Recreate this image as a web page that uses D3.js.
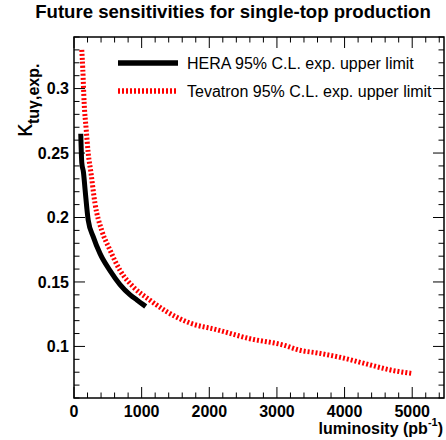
<!DOCTYPE html>
<html>
<head>
<meta charset="utf-8">
<script src="https://cdn.jsdelivr.net/npm/d3@7"></script>
<style>
  body { margin: 0; background: #fff; }
  svg { display: block; font-family: "Liberation Sans", Arial, sans-serif; }
</style>
</head>
<body>
<script>
// Data
var heraLumi  = [100, 115, 140, 165, 210, 285, 385, 530, 680, 830, 930, 1060];
var heraKappa = [0.265, 0.2425, 0.235, 0.221, 0.198, 0.185, 0.172, 0.159, 0.148, 0.140, 0.136, 0.131];

var tevLumi  = [115, 130, 150, 180, 210, 250, 310, 410, 530, 680, 880, 1120, 1370, 1720, 2110, 2600, 3100, 3340, 3590, 3980, 4380, 4680, 5000];
var tevKappa = [0.330, 0.315, 0.289, 0.2685, 0.250, 0.235, 0.211, 0.190, 0.175, 0.159, 0.146, 0.136, 0.127, 0.118, 0.113, 0.106, 0.101, 0.097, 0.095, 0.091, 0.0856, 0.0817, 0.079];

var xTicks = [0, 1000, 2000, 3000, 4000, 5000];
var yTicks = [0.1, 0.15, 0.2, 0.25, 0.3];
var legendLabels = ["HERA 95% C.L. exp. upper limit", "Tevatron 95% C.L. exp. upper limit"];

var svgWidth = 446, svgHeight = 440;
var margin = {top: 37, right: 2, bottom: 42, left: 74};

var svg = d3.select("body").append("svg")
    .attr("width", svgWidth)
    .attr("height", svgHeight);

var x = d3.scaleLinear().domain([0, 5470]).range([margin.left, svgWidth - margin.right]);
var y = d3.scaleLinear().domain([0.06, 0.34]).range([svgHeight - margin.bottom, margin.top]);

var x0 = x.range()[0], x1 = x.range()[1];
var y0 = y.range()[0], y1 = y.range()[1];

// Title
svg.append("text")
    .attr("x", 233)
    .attr("y", 18)
    .attr("text-anchor", "middle")
    .style("font-size", "18.6px")
    .style("font-weight", "bold")
    .text("Future sensitivities for single-top production");

// Frame
svg.append("rect")
    .attr("x", x0).attr("y", y1)
    .attr("width", x1 - x0).attr("height", y0 - y1)
    .attr("fill", "none").attr("stroke", "#000").attr("stroke-width", 1.5);

// Ticks (drawn inward, on all four sides)
var major = 11, minor = 5.5;
var ticks = svg.append("g").attr("stroke", "#000").attr("stroke-width", 1);

d3.range(0, 5470, 200).forEach(function(v) {
    var len = (v % 1000 === 0) ? major : minor;
    ticks.append("line").attr("x1", x(v)).attr("x2", x(v)).attr("y1", y0).attr("y2", y0 - len);
    ticks.append("line").attr("x1", x(v)).attr("x2", x(v)).attr("y1", y1).attr("y2", y1 + len);
});
d3.range(6, 35, 1).forEach(function(i) {
    var v = i / 100;
    var len = (i % 5 === 0) ? major : minor;
    ticks.append("line").attr("x1", x0).attr("x2", x0 + len).attr("y1", y(v)).attr("y2", y(v));
    ticks.append("line").attr("x1", x1).attr("x2", x1 - len).attr("y1", y(v)).attr("y2", y(v));
});

// Tick labels
svg.selectAll(".xlab")
    .data(xTicks)
    .enter().append("text")
    .attr("class", "xlab")
    .attr("x", function(d) { return x(d); })
    .attr("y", 417)
    .attr("text-anchor", "middle")
    .style("font-size", "16px")
    .style("font-weight", "bold")
    .text(function(d) { return d; });

svg.selectAll(".ylab")
    .data(yTicks)
    .enter().append("text")
    .attr("class", "ylab")
    .attr("x", 69)
    .attr("y", function(d) { return y(d) + 5.7; })
    .attr("text-anchor", "end")
    .style("font-size", "16px")
    .style("font-weight", "bold")
    .text(function(d) { return d; });

// Axis titles
var xt = svg.append("text")
    .attr("x", 443).attr("y", 434)
    .attr("text-anchor", "end")
    .style("font-size", "16px")
    .style("font-weight", "bold");
xt.append("tspan").text("luminosity (pb");
xt.append("tspan").attr("dy", -8).style("font-size", "11px").text("-1");
xt.append("tspan").attr("dy", 8).text(")");

var yt = svg.append("text")
    .attr("transform", "translate(32,137) rotate(-90)")
    .attr("text-anchor", "start");
yt.append("tspan").style("font-size", "26px").text("\u03ba");
yt.append("tspan").attr("dy", 7).style("font-size", "16px").style("font-weight", "bold").text("tu\u03b3,exp.");

// Curves
var line = d3.line()
    .x(function(d) { return x(d[0]); })
    .y(function(d) { return y(d[1]); })
    .curve(d3.curveMonotoneX);

var plot = svg.append("g");

plot.append("path")
    .datum(d3.zip(tevLumi, tevKappa))
    .attr("d", line)
    .attr("fill", "none")
    .attr("stroke", "#ff0000")
    .attr("stroke-width", 5)
    .attr("stroke-dasharray", "2,2");

plot.append("path")
    .datum(d3.zip(heraLumi, heraKappa))
    .attr("d", line)
    .attr("fill", "none")
    .attr("stroke", "#000")
    .attr("stroke-width", 5);

// Legend
var legendStyles = [
    {stroke: "#000", dash: null},
    {stroke: "#ff0000", dash: "2,2"}
];
var legend = svg.selectAll(".legend")
    .data(legendLabels)
    .enter().append("g")
    .attr("class", "legend")
    .attr("transform", function(d, i) { return "translate(118," + (63 + 28 * i) + ")"; });

legend.append("line")
    .attr("x1", 0).attr("x2", 60)
    .attr("stroke", function(d, i) { return legendStyles[i].stroke; })
    .attr("stroke-width", 5.5)
    .attr("stroke-dasharray", function(d, i) { return legendStyles[i].dash; });

legend.append("text")
    .attr("x", 69)
    .attr("y", 5.5)
    .style("font-size", "16px")
    .text(function(d) { return d; });
</script>
</body>
</html>
